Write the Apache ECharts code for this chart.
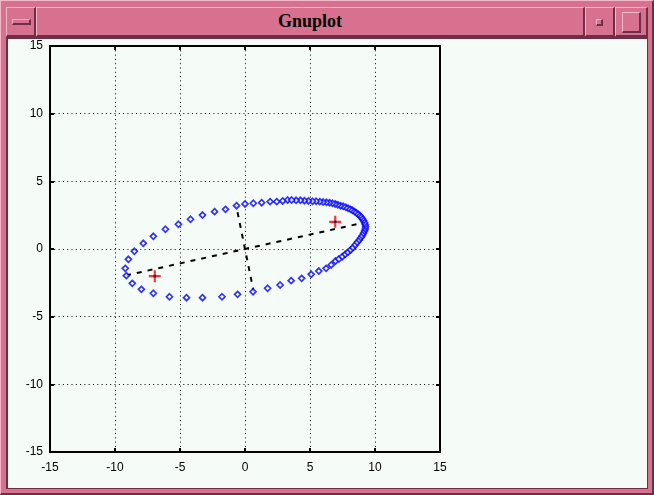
<!DOCTYPE html>
<html>
<head>
<meta charset="utf-8">
<script src="https://cdn.jsdelivr.net/npm/echarts@6/dist/echarts.min.js"></script>
<style>
  html, body { margin:0; padding:0; }
  body { width:654px; height:495px; position:relative; overflow:hidden; background:#D8708F; }
  .abs { position:absolute; box-sizing:border-box; }
  .bev { background:#D8708F; border-top:1px solid #F4B8CB; border-left:1px solid #F4B8CB; border-bottom:2px solid #6E2E46; border-right:2px solid #6E2E46; }
  #title { font-family:"Liberation Serif", serif; font-weight:bold; font-size:18px; color:#000; text-align:center; line-height:27px; }
  #client { left:6px; top:37px; width:642px; height:452px; background:#F5FBF7; border-top:2px solid #6E2E46; border-left:2px solid #6E2E46; border-bottom:1px solid #6E2E46; border-right:1px solid #6E2E46; }
  #chart { position:absolute; left:0; top:0; width:654px; height:495px; }
</style>
</head>
<body>
<div class="abs" style="left:0;top:0;width:654px;height:495px;border-top:1px solid #F4B8CB;border-left:1px solid #F4B8CB;border-bottom:2px solid #6E2E46;border-right:2px solid #6E2E46;"></div>
<div class="abs bev" style="left:6px;top:7px;width:30px;height:30px;"></div>
<div class="abs bev" style="left:12px;top:19px;width:19px;height:6px;"></div>
<div class="abs bev" id="title" style="left:36px;top:7px;width:549px;height:30px;">Gnuplot</div>
<div class="abs bev" style="left:585px;top:7px;width:30px;height:30px;"></div>
<div class="abs bev" style="left:596px;top:19px;width:7px;height:7px;"></div>
<div class="abs bev" style="left:615px;top:7px;width:33px;height:30px;"></div>
<div class="abs bev" style="left:622px;top:12px;width:19px;height:21px;"></div>
<div class="abs" id="client"></div>
<div id="chart"></div>
<script>
// Ellipse points (blue diamonds)
const ellipseX = [3.28, 2.90, 2.44, 1.93, 1.28, 0.64, 0.00, -0.65, -1.50, -2.34, -3.27, -4.19, -5.12, -6.12, -7.05, -7.82, -8.51, -8.97, -9.21, -9.13, -8.67, -7.97, -7.05, -5.81, -4.50, -3.27, -1.77, -0.57, 0.62, 1.74, 2.70,
  3.55, 4.36, 5.09, 5.68, 6.24, 6.63, 6.96, 7.22, 7.48, 7.71, 7.91, 8.12, 8.30, 8.48, 8.63, 8.79, 8.91, 9.02, 9.12, 9.20, 9.25, 9.28, 9.25, 9.20, 9.12, 9.04, 8.94, 8.84, 8.71, 8.58, 8.43, 8.27, 8.12, 7.94, 7.76, 7.56, 7.35, 7.14,
  6.94, 6.73, 6.50, 6.27, 6.01, 5.75, 5.47, 5.19, 4.88, 4.57, 4.26, 3.93, 3.59];
const ellipseY = [3.62, 3.55, 3.50, 3.50, 3.42, 3.38, 3.33, 3.20, 2.93, 2.76, 2.51, 2.20, 1.83, 1.46, 0.94, 0.42, -0.17, -0.76, -1.43, -1.97, -2.54, -2.98, -3.27, -3.53, -3.60, -3.60, -3.53, -3.35, -3.16, -2.90, -2.66,
  -2.34, -2.17, -1.87, -1.63, -1.43, -1.18, -0.89, -0.74, -0.57, -0.39, -0.25, -0.07, 0.10, 0.30, 0.49, 0.67, 0.84, 0.98, 1.16, 1.33, 1.48, 1.65, 1.80, 1.94, 2.09, 2.22, 2.34, 2.46, 2.56, 2.66, 2.76, 2.86, 2.93, 3.01, 3.08, 3.16, 3.20, 3.27,
  3.33, 3.38, 3.42, 3.45, 3.47, 3.50, 3.53, 3.53, 3.55, 3.57, 3.60, 3.60, 3.62];
// Dashed axes of the ellipse
const majorAxisX = [-9.15, 9.15];
const majorAxisY = [-1.95, 1.95];
const minorAxisX = [0.68, -0.68];
const minorAxisY = [-3.22, 3.22];
// Foci (red pluses)
const fociX = [-6.94, 6.94];
const fociY = [-2.01, 2.01];
// Axis ticks
const axisMin = -15, axisMax = 15, axisStep = 5;

const zip = (a, b) => a.map((v, i) => [v, b[i]]);
const FONT = 'Liberation Sans';
const plusPath = 'path://M0,4.1H10V5.9H0Z M4.1,0H5.9V10H4.1Z';

function axisBase(pos, labels) {
  return {
    type: 'value', min: axisMin, max: axisMax, interval: axisStep, position: pos,
    axisLine: { show: false, onZero: false },
    axisTick: { show: true, inside: true, length: 4, lineStyle: { color: '#000', width: 2 } },
    axisLabel: labels ? { show: true, color: '#000', fontSize: 12, fontFamily: FONT, margin: labels } : { show: false },
    splitLine: labels ? { show: true, lineStyle: { color: '#000', width: 1, type: [1, 3.3] } } : { show: false }
  };
}

const chart = echarts.init(document.getElementById('chart'), null, { renderer: 'canvas' });
chart.setOption({
  backgroundColor: 'transparent',
  animation: false,
  grid: { left: 50, top: 46, width: 390, height: 406, show: true, borderColor: '#000', borderWidth: 2, backgroundColor: 'transparent', containLabel: false },
  xAxis: [axisBase('bottom', 10), axisBase('top', 0)],
  yAxis: [axisBase('left', 7), axisBase('right', 0)],
  series: [
    { type: 'line', data: zip(majorAxisX, majorAxisY), showSymbol: false, symbol: 'none',
      lineStyle: { color: '#000', width: 2, type: [5, 6] }, z: 2 },
    { type: 'line', data: zip(minorAxisX, minorAxisY), showSymbol: false, symbol: 'none',
      lineStyle: { color: '#000', width: 2, type: [5, 6] }, z: 2 },
    { type: 'scatter', data: zip(ellipseX, ellipseY), symbol: 'diamond', symbolSize: 6,
      itemStyle: { color: '#F5FBF7', borderColor: '#0000FF', borderWidth: 1.7 }, z: 3 },
    { type: 'scatter', data: zip(fociX, fociY), symbol: plusPath, symbolSize: 12,
      itemStyle: { color: '#FF0000' }, z: 4 },
    { type: 'scatter', data: zip(fociX, fociY), symbol: 'rect', symbolSize: 2.5,
      itemStyle: { color: '#101060' }, z: 5 }
  ]
});
</script>
</body>
</html>
